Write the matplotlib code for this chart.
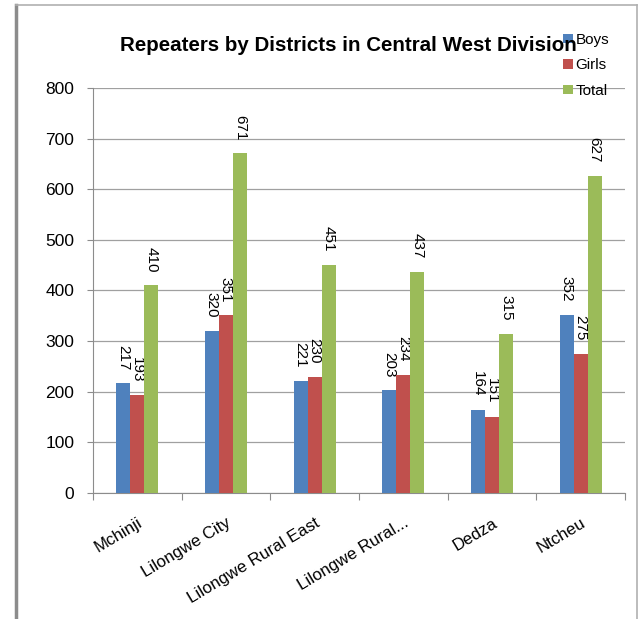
import matplotlib.pyplot as plt
import numpy as np
from matplotlib.lines import Line2D

districts = ["Mchinji", "Lilongwe City", "Lilongwe Rural East", "Lilongwe Rural...", "Dedza", "Ntcheu"]
boys = [217, 320, 221, 203, 164, 352]
girls = [193, 351, 230, 234, 151, 275]
total = [410, 671, 451, 437, 315, 627]

plt.rcParams["font.family"] = ["Liberation Sans", "DejaVu Sans"]

fig = plt.figure(figsize=(6.41, 6.19), dpi=100)
ax = fig.add_axes([0.145, 0.2036, 0.83, 0.6542])

x = np.arange(len(districts))
w = 0.158
series = [("Boys", boys, "#4F81BD"), ("Girls", girls, "#C0504D"), ("Total", total, "#9BBB59")]
for i, (name, vals, col) in enumerate(series):
    pos = x + (i - 1) * w
    ax.bar(pos, vals, width=w, color=col, label=name, zorder=3)
    for p, v in zip(pos, vals):
        ax.annotate(str(v), (p, v), xytext=(0, 9.5), textcoords="offset points",
                    rotation=270, ha="center", va="bottom", fontsize=11)

ax.set_xlim(-0.5, len(districts) - 0.5)
ax.set_ylim(0, 800)
ax.set_yticks(range(0, 801, 100))
ax.grid(axis="y", color="#a0a0a0", linewidth=0.9, zorder=0)
ax.set_xticks(np.arange(-0.5, len(districts)), minor=False)
ax.set_xticklabels([])
ax.set_xticks(x, minor=True)
ax.set_xticklabels(districts, minor=True, rotation=31, ha="right", rotation_mode="anchor", fontsize=12.2)
ax.tick_params(axis="x", which="minor", length=0, pad=16)
ax.tick_params(axis="x", which="major", length=5, color="#8c8c8c")
ax.tick_params(axis="y", length=4.5, color="#8c8c8c", labelsize=12.5, pad=9)
for s in ["top", "right"]:
    ax.spines[s].set_visible(False)
for s in ["left", "bottom"]:
    ax.spines[s].set_color("#8c8c8c")

fig.text(0.543, 0.927, "Repeaters by Districts in Central West Division", ha="center", va="center",
         fontsize=14.8, fontweight="bold")
ax.legend(loc="upper left", bbox_to_anchor=(0.87, 1.155), frameon=False, fontsize=11,
          handlelength=0.6, handleheight=0.6, labelspacing=0.75, handletextpad=0.2, borderpad=0)

# outer frame
fig.add_artist(Line2D([0.025, 0.025], [0, 0.992], transform=fig.transFigure, color="#8c8c8c", linewidth=2.5))
fig.add_artist(Line2D([0.025, 0.994], [0.992, 0.992], transform=fig.transFigure, color="#b0b0b0", linewidth=1.2))
fig.add_artist(Line2D([0.994, 0.994], [0.992, 0.0], transform=fig.transFigure, color="#b0b0b0", linewidth=1.2))

fig.savefig("out.png", dpi=100)
